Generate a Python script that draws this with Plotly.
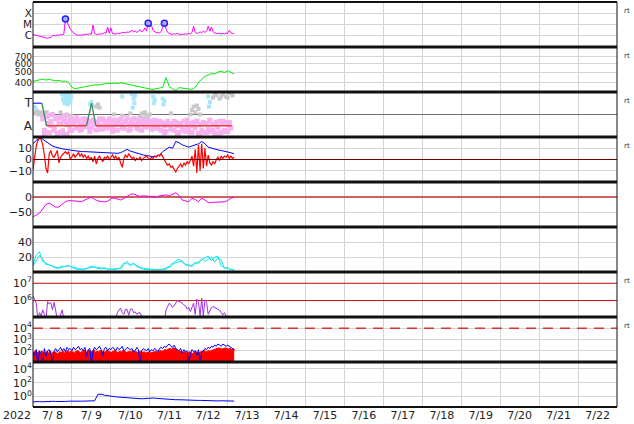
import numpy as np
import pandas as pd
import plotly.graph_objects as go
from plotly.subplots import make_subplots

# ---------------- DATA ----------------
START = pd.Timestamp("2022-07-08")
END = pd.Timestamp("2022-07-23")
HOURS_1H = np.arange(0, 125)        # hourly samples since 2022-07-08 00:00
HOURS_2H = np.arange(0, 125, 2)     # 2-hourly samples

# Panel 1: X-ray flux, in units of 1e-6 W/m2 (C-class)
XRAY_C = [1.3, 1.2, 1.1, 1.0, 0.9, 0.8, 0.7, 0.7, 0.6, 0.6,
          0.7, 0.7, 1.0, 1.1, 1.0, 1.2, 1.1, 1.3, 1.2, 1.4,
          31, 15, 7, 4, 2.5, 1.8, 1.4, 1.2, 1.1, 1.2,
          1.1, 1.3, 1.2, 1.4, 1.3, 1.5, 1.4, 9, 1.6, 1.3,
          1.4, 1.3, 1.5, 1.4, 2.0, 1.6, 6, 1.7, 5, 1.6,
          1.5, 1.4, 1.6, 1.5, 1.7, 1.9, 2.0, 1.8, 2.2, 2.0,
          2.4, 3.0, 2.2, 2.6, 2.0, 2.4, 3.5, 2.2, 2.8, 5,
          2.6, 13, 6, 9, 3, 2.2, 1.8, 2.0, 1.7, 2.5,
          5, 13, 4, 2.0, 1.6, 1.4, 1.3, 1.5, 1.4, 1.6,
          1.3, 1.2, 1.4, 1.3, 1.5, 1.4, 1.6, 1.5, 2.0, 7,
          2.0, 1.6, 1.8, 2.2, 1.9, 2.5, 2.0, 2.6, 7, 2.5,
          6, 2.2, 1.8, 1.6, 1.5, 1.7, 1.4, 1.6, 1.5, 1.7,
          1.6, 3.0, 1.8, 1.6, 1.5]
FLARE_HOURS = [20, 71, 81]
FLARE_C = [31, 13, 13]
XRAY_TICKS = [1e-6, 1e-5, 1e-4]
XRAY_LABELS = ["C", "M", "X"]

# Panel 2: solar wind speed (km/s), 2-hourly
WIND_SPEED = [410, 418, 425, 430, 422, 428, 420, 415, 418, 410,
              412, 400, 360, 350, 355, 358, 365, 370, 375, 380,
              378, 385, 388, 392, 390, 395, 390, 398, 392, 385,
              380, 375, 368, 360, 355, 352, 348, 345, 350, 355,
              360, 445, 365, 350, 338, 358, 355, 352, 350, 345,
              360, 400, 430, 455, 470, 485, 480, 500, 510, 495,
              515, 500, 480]
WIND_TICKS = [400, 500, 600, 700]

# Panel 3: category state (A=0, T=1)
STATE_HOURS = [0, 5.5, 8.4, 33, 36.1, 38.8, 122.5]
STATE_VALUE = [1, 1, 0, 0, 1, 0, 0]
STATE_COLORS = ["#3030ff", "#3a8a5a", "#f03a3a", "#3a8a5a", "#3a8a5a", "#f03a3a"]
PINK1_HOURS = np.arange(6, 123)
PINK1 = [0.3, -0.2, 0.4, 0.1, -0.3, 0.2, 0.5, -0.1, 0.3, -0.35,
         0.1, 0.35, -0.25, 0.2, 0.45, -0.4, 0.15, 0.3, -0.2, 0.1,
         0.2, -0.1, 0.25, 0.05, -0.15, 0.3, 0.1, -0.05, 0.2, 0.15,
         -0.1, 0.25, 0.1, -0.2, 0.15, 0.3, 0.0, -0.15, 0.2, 0.1,
         -0.1, 0.2, 0.15, -0.05, 0.25, 0.1, -0.2, 0.15, 0.3, 0.05,
         -0.1, 0.2, 0.35, 0.1, -0.15, 0.25, 0.3, 0.05, -0.1, 0.2,
         0.15, -0.2, 0.1, 0.25, -0.05, 0.15, 0.2, -0.15, 0.1, 0.05,
         -0.1, 0.15, 0.2, -0.2, 0.1, 0.0, -0.25, 0.1, 0.05, -0.15,
         0.1, -0.2, 0.15, 0.0, -0.3, 0.1, -0.1, 0.2, -0.25, 0.05,
         -0.15, 0.1, -0.3, 0.15, -0.1, 0.2, -0.35, 0.05, -0.2, 0.15,
         -0.3, 0.1, -0.15, 0.2, -0.25, 0.05, -0.35, 0.15, -0.1, 0.2,
         -0.3, 0.1, -0.2, 0.15, -0.25, 0.05, -0.1]
PINK2_HOURS = np.arange(7, 122, 2)
PINK2 = [-0.35, 0.45, 0.0, -0.2, 0.35, -0.3, 0.4, 0.05, -0.2, 0.3,
         0.35, -0.2, 0.0, 0.3, -0.25, 0.2, 0.05, -0.15, 0.3, -0.05,
         0.3, -0.25, 0.05, 0.25, -0.1, 0.2, -0.2, 0.1, 0.3, -0.15,
         0.3, -0.05, 0.2, -0.15, 0.25, -0.1, 0.15, -0.3, 0.2, -0.05,
         0.2, -0.35, 0.1, -0.2, 0.25, -0.3, 0.0, 0.2, -0.35, 0.1,
         -0.3, 0.25, -0.2, 0.1, -0.35, 0.2, -0.25, 0.15]
GRAY_HOURS = [0.5, 1.5, 2.5, 3.5, 4.5, 5.5, 6.5, 7.5, 8.5,
              16.5, 17.5, 18.5, 19.5, 20.5, 21.5, 22.5, 23.5,
              17, 19, 21, 23, 39, 40, 41, 50, 55, 60,
              66, 67, 68, 69, 70, 71, 72, 85,
              97, 98, 99, 100, 101, 102, 103,
              111, 113, 115, 117, 119, 121, 123, 112, 116, 120]
GRAY = [0.6, 0.55, 0.65, 0.5, 0.6, 0.45, 0.55, 0.5, 0.6,
        0.4, 0.1, -0.2, 0.3, -0.35, 0.2, -0.1, 0.45,
        0.6, -0.4, 0.5, 0.0, 0.85, 0.95, 0.8, 0.5, 0.45, 0.55,
        0.4, 0.55, 0.35, 0.6, 0.45, 0.3, 0.5, 0.55,
        0.5, 0.7, 0.85, 0.6, 0.9, 0.75, 0.5,
        1.25, 1.35, 1.2, 1.4, 1.3, 1.45, 1.35, 1.4, 1.3, 1.25]
CYAN_HOURS = [0.5, 1.5, 18, 18.5, 19, 19.5, 20, 20.5, 21, 21.5, 22, 22.5, 23, 23.5,
              19, 20, 21, 22, 23, 35, 36, 36.5, 55, 61, 61.5, 62, 62.5, 63,
              74, 74.5, 75, 80, 80.5, 81, 108, 108.5, 109]
CYAN = [0.85, 0.8, 1.4, 1.2, 1.45, 1.0, 1.3, 1.1, 1.4, 0.95, 1.25, 1.45, 1.05, 1.3,
        1.1, 1.35, 1.2, 1.05, 1.15, 0.95, 1.05, 0.9, 1.3, 1.4, 0.8, 1.2, 1.0, 1.35,
        1.3, 1.0, 1.15, 1.2, 0.95, 1.1, 1.3, 0.85, 1.05]
STATE_MID = 0.5

# Panel 4: IMF Bt (2-hourly) and Bz (hourly), nT
BT = [14, 17, 19, 18, 16, 14, 12, 11, 10, 9.5,
      9, 8.5, 8, 7.5, 7.5, 7, 7, 6.8, 6.5, 6.5,
      6.3, 6, 6, 5.8, 5.5, 5.5, 5.5, 6, 7.5, 9,
      7.5, 6.5, 5.5, 4.5, 4, 3.5, 3, 2.5, 3, 4,
      7, 9, 11, 10, 16, 15, 13, 12, 11, 12,
      13, 14, 16, 14, 11, 10, 9, 8.5, 8, 7.5,
      7, 6, 5]
BZ = [-9, 2, 12, 17, 19, 18, 13, 4, -8, -12,
      5, 8, 3, 2, 5, 8, -3, 2, 4, 6,
      7, 5, 7, 0, 3, 5, 2, 4, 6, 3,
      5, 2, 4, 1, 3, 0, 2, -2, 3, -4,
      1, 3, 0, -2, 2, 1, 3, 0, 2, 4,
      1, 3, 0, 2, -3, -7, 1, 4, 2, 5,
      3, 1, 2, -1, 1, 0, 2, -1, 1, 2,
      3, 1, 0, 2, 1, 3, 2, 4, 3, 5,
      2, -1, -3, -5, -4, -7, -6, -9, -11, -8,
      -6, -4, -7, -3, -5, -2, -4, -1, 3, -6,
      9, -12, 13, -10, 14, -8, 10, -6, 4, -3,
      -5, -2, -4, 0, 2, -1, 3, 1, 3, 2,
      4, 1, 3, 1, 2]

# Panel 5: Dst (nT), 2-hourly
DST = [-66, -60, -54, -40, -25, -20, -28, -34, -33, -25,
       -15, -12, -13, -13, -14, -15, -10, -4, 0, -8,
       -13, -15, -16, -14, -6, -3, -6, -10, -5, 2,
       9, 10, 5, 2, 4, 3, 3, 0, 0, 4,
       5, 7, 4, 8, 14, 5, -10, -13, -16, -4,
       -8, -16, -4, -10, -19, -18, -18, -18, -17, -16,
       -12, -4, -1]

# Panel 6: two cyan series, 2-hourly
CYAN_A = [10, 22, 27, 14, 12, 9, 8, 6, 5, 6,
          8, 8, 7, 6, 4, 3.5, 4, 5, 6, 7,
          6, 5, 5, 4, 3.5, 4, 5, 4, 10, 14,
          10, 11, 8, 6, 5, 4, 3.5, 3, 3, 2.7,
          3, 4, 6, 9, 15, 17, 13, 11, 8, 9,
          11, 14, 16, 19, 21, 15, 20, 21, 8, 6,
          5, 4, 2.5]
CYAN_B = [8, 15, 22, 17, 10, 10, 7, 5, 6, 8,
          7, 9, 6, 5, 3, 4, 3.5, 6, 8, 6,
          5, 4, 6, 3.5, 4, 3, 4, 6, 12, 12,
          8, 12, 7, 5, 4, 3, 4, 2.5, 3.5, 3,
          4, 5, 8, 12, 12, 14, 15, 9, 10, 7,
          13, 11, 18, 14, 17, 20, 13, 19, 16, 5,
          6, 3, 3]

# Panel 7: electron flux, log10, hourly
P7_LOG = [6.27, 6.1, 5.85, 4.9, 5.3, 5.1, 5.46, 5.2, 4.9, 5.94,
          5.8, 5.88, 5.46, 5.9, 5.5, 4.9, 4.9, 5.2, 5.46, 4.9,
          4.8, 4.8, 4.8, 4.8, 4.8, 4.8, 4.8, 4.8, 4.8, 4.8,
          4.8, 4.8, 4.8, 4.8, 4.8, 4.8, 5.0, 5.12, 4.9, 4.8,
          4.8, 4.8, 4.8, 4.8, 4.8, 4.8, 4.8, 4.8, 4.8, 4.8,
          4.8, 4.95, 5.3, 5.45, 5.56, 5.3, 5.2, 5.5, 5.48, 5.15,
          5.5, 5.52, 5.3, 5.35, 5.2, 5.3, 5.29, 5.1, 4.9, 4.8,
          4.8, 4.8, 4.8, 4.8, 4.8, 4.8, 4.8, 4.8, 4.8, 4.8,
          4.8, 4.8, 5.46, 5.7, 5.85, 5.75, 5.6, 5.7, 5.9, 6.0,
          5.95, 5.9, 5.85, 5.75, 5.7, 5.5, 5.6, 5.37, 5.6, 5.85,
          5.2, 6.08, 5.9, 5.1, 6.14, 5.1, 6.04, 5.9, 5.2, 5.4,
          5.6, 5.65, 5.6, 5.55, 5.5, 5.45, 5.3, 5.17, 5.3, 5.1,
          4.9, 4.8, 4.8, 4.8, 4.8]
P7_REF = [1e6, 1e7]

# Panel 8: red (filled) and blue, log10, hourly
P8_RED_LOG = [1.85, 1.95, 1.8, 1.9, 1.7, 1.95, 1.85, 1.75, 1.9, 1.8,
              1.95, 1.7, 1.85, 1.9, 1.8, 1.75, 1.9, 1.85, 1.95, 1.8,
              1.9, 2.0, 1.85, 1.95, 1.9, 1.8, 1.95, 2.0, 1.9, 1.85,
              1.95, 2.0, 1.9, 1.85, 2.0, 1.95, 1.9, 2.05, 1.85, 1.95,
              1.9, 2.0, 1.95, 1.85, 1.9, 2.0, 1.95, 1.9, 1.85, 1.95,
              2.0, 1.9, 1.85, 1.95, 1.9, 2.0, 1.95, 1.85, 1.9, 1.95,
              1.9, 2.0, 1.95, 1.9, 1.85, 1.9, 1.95, 1.85, 1.9, 1.8,
              1.85, 1.9, 1.8, 1.85, 1.9, 1.95, 1.85, 1.9, 2.0, 1.95,
              2.0, 2.1, 2.05, 2.15, 2.2, 2.1, 2.25, 2.2, 2.1, 2.0,
              1.95, 1.9, 1.85, 1.9, 1.8, 1.85, 1.9, 1.8, 1.75, 1.85,
              1.9, 1.8, 1.85, 1.9, 1.95, 2.0, 1.9, 1.95, 2.0, 1.95,
              2.05, 2.1, 2.15, 2.2, 2.25, 2.2, 2.15, 2.2, 2.25, 2.2,
              2.15, 2.2, 2.1, 2.15, 2.05]
P8_BLUE_LOG = [1.9, 1.6, 2.1, 0.8, 2.0, 1.7, 0.8, 2.2, 1.5, 2.0,
               2.1, 1.8, 0.8, 2.0, 2.2, 1.9, 2.1, 2.3, 2.0, 2.2,
               1.9, 2.3, 2.1, 2.2, 2.0, 2.3, 2.1, 2.2, 2.4, 2.1,
               2.2, 2.0, 2.3, 1.5, 2.1, 2.2, 0.8, 2.0, 2.3, 2.1,
               2.2, 2.4, 2.1, 1.6, 2.2, 2.3, 2.0, 2.2, 2.1, 2.3,
               2.2, 2.0, 2.3, 2.1, 2.2, 2.4, 2.0, 2.1, 2.3, 2.2,
               2.1, 2.2, 1.9, 2.0, 2.3, 2.1, 0.8, 2.0, 2.2, 2.1,
               2.0, 2.2, 1.9, 2.1, 2.0, 2.2, 2.1, 1.9, 2.2, 2.3,
               2.2, 2.4, 2.3, 2.5, 2.6, 2.4, 2.3, 2.5, 2.2, 2.1,
               2.0, 2.2, 1.8, 2.1, 1.9, 2.0, 0.8, 1.7, 2.1, 1.9,
               2.0, 1.6, 2.1, 0.8, 1.9, 2.0, 2.2, 2.1, 2.3, 2.2,
               2.4, 2.3, 2.5, 2.4, 2.6, 2.5, 2.4, 2.6, 2.5, 2.4,
               2.5, 2.4, 2.3, 2.2, 2.1]
P8_REF = 1e4
P8_BASE = 10 ** 0.5

# Panel 9: proton flux, log10, 2-hourly
P9_LOG = [-0.75, -0.7, -0.72, -0.75, -0.7, -0.72, -0.68, -0.7, -0.72, -0.68,
          -0.7, -0.66, -0.68, -0.65, -0.68, -0.66, -0.65, -0.62, -0.62, -0.6,
          0.33, 0.35, 0.2, 0.1, 0.05, 0.0, -0.05, -0.1, -0.15, -0.2,
          -0.22, -0.25, -0.28, -0.3, -0.3, -0.25, -0.15, -0.2, -0.25, -0.3,
          -0.33, -0.35, -0.4, -0.42, -0.45, -0.45, -0.48, -0.5, -0.5, -0.52,
          -0.5, -0.55, -0.55, -0.58, -0.6, -0.58, -0.6, -0.62, -0.6, -0.62,
          -0.65, -0.6, -0.65]

RT_PANELS = [1, 2, 3, 4, 7, 8]

# ---------------- FIGURE ----------------
def tt(h):
    return START + pd.to_timedelta(np.asarray(h, dtype=float), unit="h")

T1 = tt(HOURS_1H)
T2 = tt(HOURS_2H)
XR = [START, END]

fig = make_subplots(rows=9, cols=1, shared_xaxes=True, vertical_spacing=0)

def line(x, y, color, row, width=1.0, **kw):
    fig.add_trace(go.Scatter(x=x, y=y, mode="lines", line=dict(color=color, width=width),
                             hoverinfo="skip", **kw), row=row, col=1)

# Panel 1
line(T1, np.array(XRAY_C) * 1e-6, "#ff00ff", 1)
fig.add_trace(go.Scatter(x=tt(FLARE_HOURS), y=np.array(FLARE_C) * 1e-6, mode="markers",
                         marker=dict(symbol="circle", size=6, color="rgba(160,160,255,0.8)",
                                     line=dict(color="#2020ff", width=1.5))), row=1, col=1)
# Panel 2
line(T2, WIND_SPEED, "#00ee00", 2)
# Panel 3
line(XR, [STATE_MID, STATE_MID], "#707070", 3)
sq = dict(symbol="square")
fig.add_trace(go.Scatter(x=tt(GRAY_HOURS), y=GRAY, mode="markers",
                         marker=dict(color="#c8c8c8", size=4, **sq)), row=3, col=1)
fig.add_trace(go.Scatter(x=tt(PINK1_HOURS), y=PINK1, mode="markers",
                         marker=dict(color="#f6b2f0", size=5, **sq)), row=3, col=1)
fig.add_trace(go.Scatter(x=tt(PINK2_HOURS), y=PINK2, mode="markers",
                         marker=dict(color="#f6b2f0", size=5, **sq)), row=3, col=1)
fig.add_trace(go.Scatter(x=tt(CYAN_HOURS), y=CYAN, mode="markers",
                         marker=dict(color="#a8e6fa", size=4, **sq)), row=3, col=1)
for i, c in enumerate(STATE_COLORS):
    line(tt(STATE_HOURS[i:i + 2]), STATE_VALUE[i:i + 2], c, 3, width=1.3)
# Panel 4
line(T2, BT, "#0000ff", 4)
line(T1, BZ, "#ff0000", 4, width=1.2)
line(XR, [0, 0], "#700000", 4)
# Panel 5
line(XR, [0, 0], "#d06060", 5, width=2)
line(T2, DST, "#ee00ee", 5)
# Panel 6
line(T2, CYAN_A, "#00eeee", 6)
line(T2, CYAN_B, "#22e0e8", 6)
# Panel 7
for v in P7_REF:
    line(XR, [v, v], "#cc1111", 7)
line(T1, 10 ** np.array(P7_LOG), "#a030e0", 7)
# Panel 8
line(XR, [P8_REF, P8_REF], "#dd3333", 8, width=1.5)
fig.data[-1].line.dash = "10px,7px"
line(T1, [P8_BASE] * len(T1), "rgba(0,0,0,0)", 8)
fig.add_trace(go.Scatter(x=T1, y=10 ** np.array(P8_RED_LOG), mode="lines", fill="tonexty",
                         fillcolor="#ff0000", line=dict(color="#ff0000", width=1, shape="hv")),
              row=8, col=1)
line(T1, 10 ** np.array(P8_BLUE_LOG), "#0000ff", 8)
# Panel 9
line(T2, 10 ** np.array(P9_LOG), "#0000ff", 9)

# Axes
FONT = dict(family="DejaVu Sans", size=11, color="#222")
GRID = "#d4d4d4"
for r in range(1, 10):
    fig.update_xaxes(row=r, col=1, type="date", range=[START, END], tickmode="linear",
                     tick0=START, dtick=86400000, showgrid=True, gridcolor=GRID, gridwidth=1,
                     showline=False, zeroline=False, ticks="", showticklabels=(r == 9),
                     automargin=False, fixedrange=True)
fig.update_xaxes(row=9, col=1, ticklabelmode="period", tickformat="%-m/%e", tickfont=FONT)

def sup(n):
    return "10<sup>%d</sup>" % n

yax = {
    1: dict(type="log", range=[-7, -3], tickvals=XRAY_TICKS, ticktext=XRAY_LABELS,
            tickfont=dict(family="DejaVu Sans", size=10.5, color="#222")),
    2: dict(type="log", range=[np.log10(326), np.log10(859)], tickvals=WIND_TICKS,
            tickfont=dict(family="DejaVu Sans", size=9, color="#222")),
    3: dict(range=[-0.5, 1.5], tickvals=[0, 1], ticktext=["A", "T"], showgrid=False,
            tickfont=dict(family="DejaVu Sans", size=12, color="#222")),
    4: dict(range=[-20, 20], tickvals=[-10, 0, 10]),
    5: dict(range=[-100, 50], tickvals=[-50, 0]),
    6: dict(range=[0, 60], tickvals=[20, 40]),
    7: dict(type="log", range=[5.05, 7.65], tickvals=[1e6, 1e7], ticktext=[sup(6), sup(7)]),
    8: dict(type="log", range=[1, 5], tickvals=[1e2, 1e3, 1e4], ticktext=[sup(2), sup(3), sup(4)]),
    9: dict(type="log", range=[-1.5, 5], tickvals=[1, 1e2, 1e4], ticktext=[sup(0), sup(2), sup(4)]),
}
for r, cfg in yax.items():
    base = dict(showgrid=True, gridcolor=GRID, gridwidth=1, zeroline=False, showline=False,
                ticks="", tickfont=FONT, fixedrange=True, automargin=False)
    base.update(cfg)
    fig.update_yaxes(row=r, col=1, **base)

# Frame & panel separators
shapes = []
for k in range(1, 9):
    y = 1 - k / 9
    shapes.append(dict(type="line", xref="paper", yref="paper", x0=0, x1=1, y0=y, y1=y,
                       line=dict(color="#111", width=3), layer="above"))
shapes.append(dict(type="rect", xref="paper", yref="paper", x0=0, x1=1, y0=0, y1=1,
                   line=dict(color="#111", width=1), layer="above"))
for y in (0, 1):
    shapes.append(dict(type="line", xref="paper", yref="paper", x0=0, x1=1, y0=y, y1=y,
                       line=dict(color="#111", width=2), layer="above"))

annotations = [dict(text="2022", xref="paper", yref="paper", x=-0.028, y=-9 / 405,
                    xanchor="center", yanchor="middle", showarrow=False, font=FONT)]
for p in RT_PANELS:
    annotations.append(dict(text="rt", xref="paper", yref="paper", x=1.008,
                            y=1 - (p - 1) / 9 - 9 / 405, xanchor="left", yanchor="middle",
                            showarrow=False, font=dict(family="DejaVu Sans", size=7, color="#333")))

fig.update_layout(width=634, height=424, margin=dict(l=33, r=17, t=2, b=17, autoexpand=False),
                  plot_bgcolor="white", paper_bgcolor="white", showlegend=False,
                  font=FONT, shapes=shapes, annotations=annotations, hovermode=False)

fig.write_html("out.html", config={"displayModeBar": False, "staticPlot": True},
               post_script="document.body.style.margin='0px';")
